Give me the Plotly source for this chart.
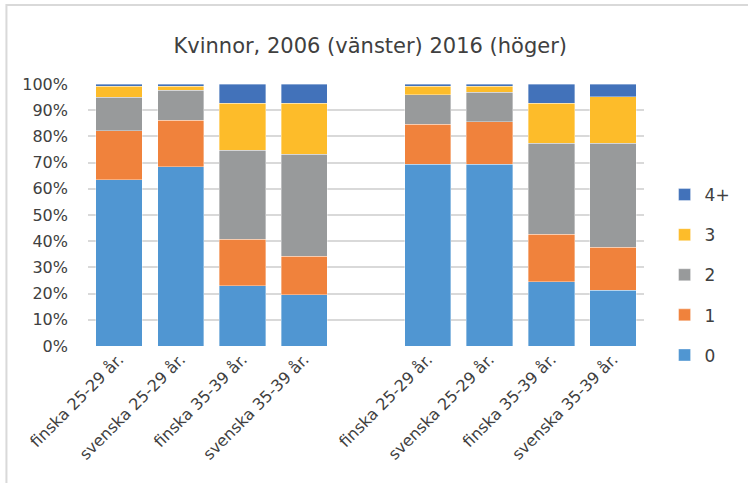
import plotly.graph_objects as go

categories = ["finska 25-29 år.", "svenska 25-29 år.", "finska 35-39 år.", "svenska 35-39 år.", "",
              "finska 25-29 år.", "svenska 25-29 år.", "finska 35-39 år.", "svenska 35-39 år."]

series_names = ["0", "1", "2", "3", "4+"]
v0 = [63.5, 68.4, 23.0, 19.6, None, 69.3, 69.3, 24.5, 21.3]
v1 = [18.6, 17.7, 17.8, 14.7, None, 15.4, 16.2, 18.1, 16.3]
v2 = [12.9, 11.5, 33.9, 38.8, None, 11.2, 11.3, 34.7, 39.7]
v3 = [4.1, 1.5, 17.9, 19.5, None, 3.2, 2.3, 15.3, 17.9]
v4 = [0.9, 0.9, 7.4, 7.4, None, 0.9, 0.9, 7.4, 4.8]
series_values = [v0, v1, v2, v3, v4]
colors = ["#5096d2", "#f0823c", "#989a9b", "#fdbc2a", "#4272ba"]

ytick_vals = [0, 10, 20, 30, 40, 50, 60, 70, 80, 90, 100]
ytick_text = [f"{v}%" for v in ytick_vals]

x_pos = list(range(len(categories)))

fig = go.Figure()
n = len(series_names)
for i, (name, vals, col) in enumerate(zip(series_names, series_values, colors)):
    fig.add_trace(go.Bar(
        x=x_pos, y=vals, name=name, legendgroup=name, legendrank=n - i,
        marker=dict(color=col, line=dict(color="rgba(255,255,255,0.6)", width=0.6)),
        width=0.75,
    ))

font_family = "'DejaVu Sans', sans-serif"
fig.update_layout(
    barmode="stack",
    width=748, height=483,
    margin=dict(l=88, r=101, t=84, b=137),
    paper_bgcolor="white", plot_bgcolor="white",
    font=dict(family=font_family, color="#404040"),
    title=dict(text="Kvinnor, 2006 (vänster) 2016 (höger)", x=0.495, xanchor="center",
               y=1 - 46 / 483, yanchor="middle", font=dict(size=21, color="#404040")),
    xaxis=dict(tickmode="array", tickvals=x_pos, ticktext=categories, range=[-0.5, 8.5],
               tickangle=-45, tickfont=dict(size=16, color="#404040"), showgrid=False,
               showline=False, zeroline=False, ticks=""),
    yaxis=dict(range=[0, 100], tickmode="array", tickvals=ytick_vals, ticktext=ytick_text,
               showgrid=True, gridcolor="#d9d9d9", gridwidth=1.5, zeroline=False,
               tickfont=dict(size=16, color="#404040"), ticklabelstandoff=19),
    legend=dict(traceorder="grouped", x=1.037, xanchor="left", y=0.645, yanchor="top",
                font=dict(size=17, color="#404040"), tracegroupgap=15, itemwidth=30,
                bgcolor="rgba(0,0,0,0)"),
    showlegend=True,
    shapes=[dict(type="rect", xref="paper", yref="paper", x0=-0.1467, x1=2, y0=-2, y1=1.3015,
                 line=dict(color="#d9d9d9", width=2), layer="below")],
)

fig.write_html("out.html", post_script="document.body.style.margin='0px';",
               config={"displayModeBar": False})
